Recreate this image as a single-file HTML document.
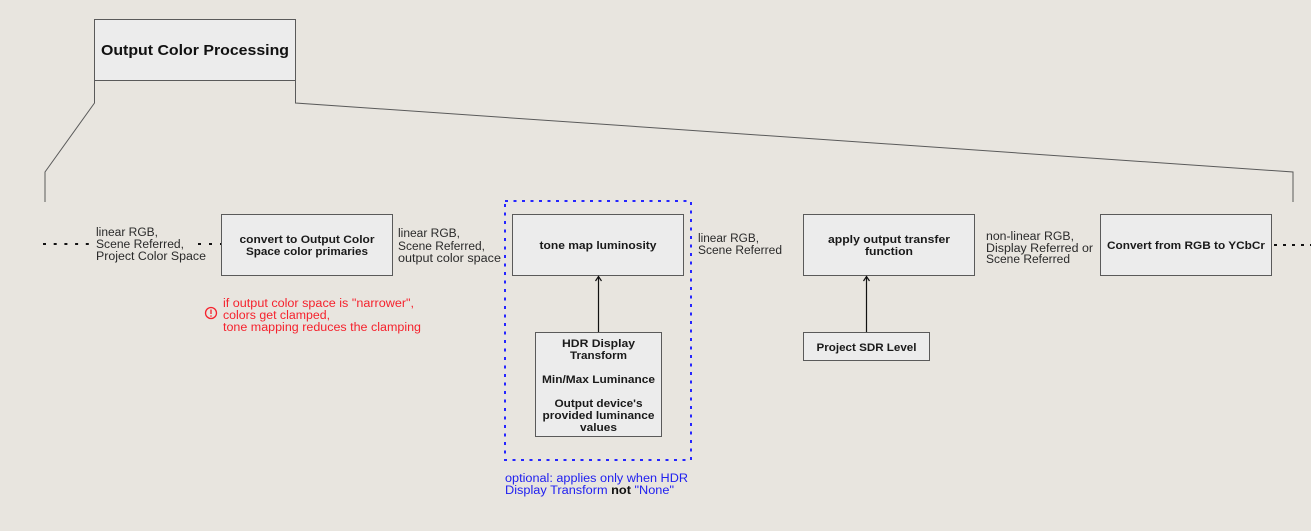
<!DOCTYPE html>
<html>
<head>
<meta charset="utf-8">
<style>
  html, body { margin:0; padding:0; background:#e8e5df; }
  svg { display:block; }
  text { font-family: "Liberation Sans", "DejaVu Sans", sans-serif; }
  .lbl { font-size:11.5px; fill:#2a2a2a; }
  .bx { font-size:11px; font-weight:bold; fill:#1a1a1a; }
  .red { font-size:11.5px; fill:#f5222d; }
  .blue { font-size:11.5px; fill:#2020f0; }
</style>
</head>
<body>
<svg width="1311" height="531" viewBox="0 0 1311 531" xmlns="http://www.w3.org/2000/svg">
  <rect x="0" y="0" width="1311" height="531" fill="#e8e5df"/>

  <!-- title box -->
  <rect x="94.5" y="19.5" width="201" height="61" fill="#ececec" stroke="#5a5a5a" stroke-width="1"/>
  <text x="195" y="55" text-anchor="middle" style="font-size:15px;font-weight:bold;fill:#111" textLength="188" lengthAdjust="spacingAndGlyphs">Output Color Processing</text>

  <!-- bracket lines -->
  <polyline points="94.5,80.5 94.5,103 45,172 45,202" fill="none" stroke="#5a5a5a" stroke-width="1"/>
  <polyline points="295.5,80.5 295.5,103 1293,172 1293,202" fill="none" stroke="#5a5a5a" stroke-width="1"/>

  <!-- dotted connectors -->
  <line x1="43" y1="244" x2="90" y2="244" stroke="#111" stroke-width="2" stroke-dasharray="3 7.7"/>
  <line x1="198" y1="244" x2="222" y2="244" stroke="#111" stroke-width="2" stroke-dasharray="3 8"/>
  <line x1="1274" y1="245" x2="1311" y2="245" stroke="#111" stroke-width="2" stroke-dasharray="3 6"/>

  <!-- label 1 -->
  <text class="lbl" x="96" y="236" textLength="62" lengthAdjust="spacingAndGlyphs">linear RGB,</text>
  <text class="lbl" x="96" y="248" textLength="88" lengthAdjust="spacingAndGlyphs">Scene Referred,</text>
  <text class="lbl" x="96" y="260" textLength="110" lengthAdjust="spacingAndGlyphs">Project Color Space</text>

  <!-- box 1 -->
  <rect x="221.5" y="214.5" width="171" height="61" fill="#ececec" stroke="#5a5a5a" stroke-width="1"/>
  <text class="bx" x="307" y="243" text-anchor="middle" textLength="135" lengthAdjust="spacingAndGlyphs">convert to Output Color</text>
  <text class="bx" x="307" y="255" text-anchor="middle" textLength="122" lengthAdjust="spacingAndGlyphs">Space color primaries</text>

  <!-- red note -->
  <circle cx="211" cy="313" r="5.5" fill="none" stroke="#f5222d" stroke-width="1.3"/>
  <line x1="211" y1="309.5" x2="211" y2="314" stroke="#f5222d" stroke-width="1.3"/>
  <circle cx="211" cy="316" r="0.8" fill="#f5222d"/>
  <text class="red" x="223" y="307" textLength="191" lengthAdjust="spacingAndGlyphs">if output color space is "narrower",</text>
  <text class="red" x="223" y="319" textLength="107" lengthAdjust="spacingAndGlyphs">colors get clamped,</text>
  <text class="red" x="223" y="331" textLength="198" lengthAdjust="spacingAndGlyphs">tone mapping reduces the clamping</text>

  <!-- label 2 -->
  <text class="lbl" x="398" y="237" textLength="62" lengthAdjust="spacingAndGlyphs">linear RGB,</text>
  <text class="lbl" x="398" y="250" textLength="87" lengthAdjust="spacingAndGlyphs">Scene Referred,</text>
  <text class="lbl" x="398" y="262" textLength="103" lengthAdjust="spacingAndGlyphs">output color space</text>

  <!-- blue dotted group -->
  <rect x="505" y="201" width="186" height="259" fill="none" stroke="#2525ff" stroke-width="2" stroke-dasharray="3 5.5"/>

  <!-- tone map box -->
  <rect x="512.5" y="214.5" width="171" height="61" fill="#ececec" stroke="#5a5a5a" stroke-width="1"/>
  <text class="bx" x="598" y="249" text-anchor="middle" textLength="117" lengthAdjust="spacingAndGlyphs">tone map luminosity</text>

  <!-- arrow HDR -> tone map -->
  <line x1="598.5" y1="332" x2="598.5" y2="277" stroke="#111" stroke-width="1.2"/>
  <polyline points="595.5,281 598.5,276.5 601.5,281" fill="none" stroke="#111" stroke-width="1.2"/>

  <!-- HDR box -->
  <rect x="535.5" y="332.5" width="126" height="104" fill="#ececec" stroke="#5a5a5a" stroke-width="1"/>
  <text class="bx" x="598.5" y="347" text-anchor="middle" textLength="73" lengthAdjust="spacingAndGlyphs">HDR Display</text>
  <text class="bx" x="598.5" y="359" text-anchor="middle" textLength="57" lengthAdjust="spacingAndGlyphs">Transform</text>
  <text class="bx" x="598.5" y="383" text-anchor="middle" textLength="113" lengthAdjust="spacingAndGlyphs">Min/Max Luminance</text>
  <text class="bx" x="598.5" y="407" text-anchor="middle" textLength="88" lengthAdjust="spacingAndGlyphs">Output device's</text>
  <text class="bx" x="598.5" y="419" text-anchor="middle" textLength="112" lengthAdjust="spacingAndGlyphs">provided luminance</text>
  <text class="bx" x="598.5" y="431" text-anchor="middle" textLength="37" lengthAdjust="spacingAndGlyphs">values</text>

  <!-- blue note -->
  <text class="blue" x="505" y="482" textLength="183" lengthAdjust="spacingAndGlyphs">optional: applies only when HDR</text>
  <text class="blue" x="505" y="494" textLength="169" lengthAdjust="spacingAndGlyphs">Display Transform <tspan font-weight="bold" fill="#111">not</tspan> "None"</text>

  <!-- label 3 -->
  <text class="lbl" x="698" y="242" textLength="61" lengthAdjust="spacingAndGlyphs">linear RGB,</text>
  <text class="lbl" x="698" y="254" textLength="84" lengthAdjust="spacingAndGlyphs">Scene Referred</text>

  <!-- apply box -->
  <rect x="803.5" y="214.5" width="171" height="61" fill="#ececec" stroke="#5a5a5a" stroke-width="1"/>
  <text class="bx" x="889" y="243" text-anchor="middle" textLength="122" lengthAdjust="spacingAndGlyphs">apply output transfer</text>
  <text class="bx" x="889" y="255" text-anchor="middle" textLength="48" lengthAdjust="spacingAndGlyphs">function</text>

  <!-- arrow SDR -> apply -->
  <line x1="866.5" y1="332" x2="866.5" y2="277" stroke="#111" stroke-width="1.2"/>
  <polyline points="863.5,281 866.5,276.5 869.5,281" fill="none" stroke="#111" stroke-width="1.2"/>

  <!-- Project SDR box -->
  <rect x="803.5" y="332.5" width="126" height="28" fill="#ececec" stroke="#5a5a5a" stroke-width="1"/>
  <text class="bx" x="866.5" y="351" text-anchor="middle" textLength="100" lengthAdjust="spacingAndGlyphs">Project SDR Level</text>

  <!-- label 4 -->
  <text class="lbl" x="986" y="240" textLength="88" lengthAdjust="spacingAndGlyphs">non-linear RGB,</text>
  <text class="lbl" x="986" y="252" textLength="107" lengthAdjust="spacingAndGlyphs">Display Referred or</text>
  <text class="lbl" x="986" y="263" textLength="84" lengthAdjust="spacingAndGlyphs">Scene Referred</text>

  <!-- convert box -->
  <rect x="1100.5" y="214.5" width="171" height="61" fill="#ececec" stroke="#5a5a5a" stroke-width="1"/>
  <text class="bx" x="1186" y="249" text-anchor="middle" textLength="158" lengthAdjust="spacingAndGlyphs">Convert from RGB to YCbCr</text>
</svg>
</body>
</html>
